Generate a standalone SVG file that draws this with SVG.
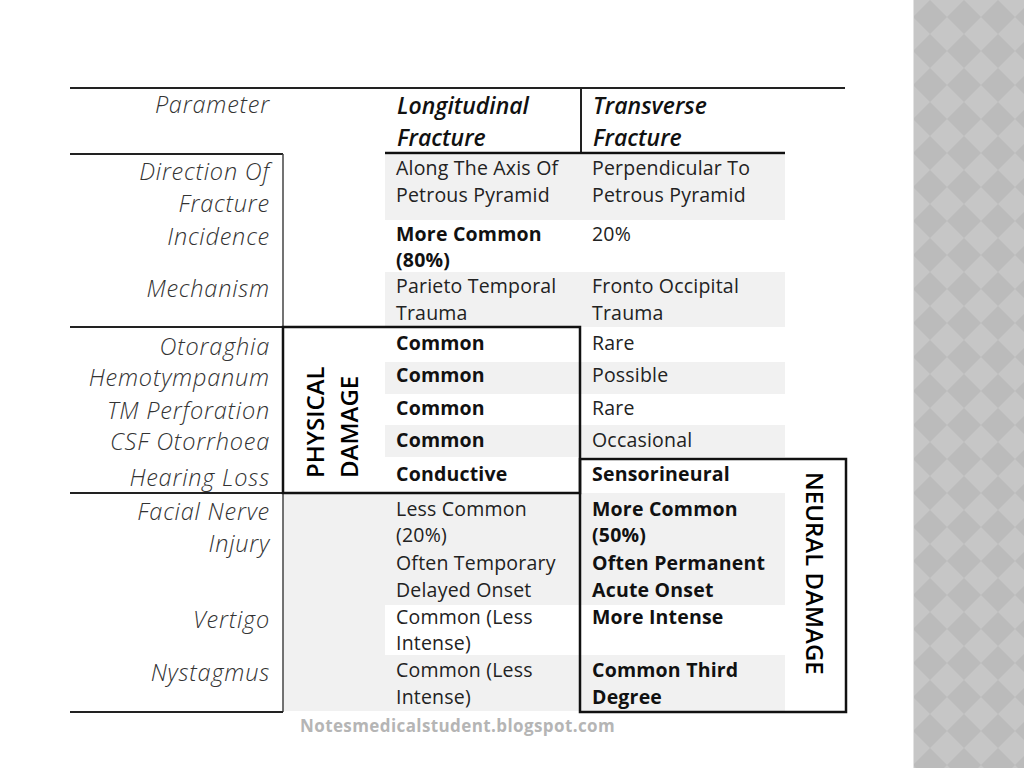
<svg xmlns="http://www.w3.org/2000/svg" width="1024" height="768" viewBox="0 0 1024 768">
<style>
.lbl{font-family:"Open Sans","Liberation Sans",sans-serif;font-style:italic;font-weight:300;font-size:23.5px;letter-spacing:0.8px;fill:#333;text-anchor:end}
.cell{font-family:"Open Sans","Liberation Sans",sans-serif;font-size:19.5px;letter-spacing:0.2px;fill:#222}
.b{font-weight:700;fill:#111}
.hdr{font-family:"Open Sans","Liberation Sans",sans-serif;font-style:italic;font-weight:600;font-size:23px;fill:#111}
.vert{font-family:"Open Sans","Liberation Sans",sans-serif;font-weight:600;font-size:24px;fill:#000}
.fill{fill:#f1f1f1}
.thin{stroke:#222;stroke-width:2;fill:none}
.thick{stroke:#111;stroke-width:2.5;fill:none}
</style>
<defs>
<pattern id="dia" x="913" y="0" width="34" height="34" patternUnits="userSpaceOnUse">
<rect width="34" height="34" fill="#c6c6c6"/>
<polygon points="17,0 34,17 17,34 0,17" fill="#bbbbbb"/>
</pattern>
</defs>
<rect width="1024" height="768" fill="#ffffff"/>
<rect x="913" y="0" width="111" height="768" fill="url(#dia)"/>
<line x1="913.5" y1="0" x2="913.5" y2="768" stroke="#e2e2e2" stroke-width="1"/>

<g id="fills">
<rect class="fill" x="385" y="155" width="400" height="65"/>
<rect class="fill" x="385" y="272" width="400" height="55"/>
<rect class="fill" x="385" y="362" width="400" height="32"/>
<rect class="fill" x="385" y="425" width="400" height="32"/>
<rect class="fill" x="283" y="493" width="502" height="218"/>
<rect x="385" y="605" width="400" height="50" fill="#ffffff"/>
</g>

<g id="connectors">
<line class="thin" x1="70" y1="88" x2="845" y2="88"/>
<line class="thin" x1="581" y1="88" x2="581" y2="153"/>
<line class="thin" x1="70" y1="154" x2="283" y2="154"/>
<line class="thick" x1="385" y1="153" x2="785" y2="153"/>
<line x1="283" y1="154" x2="283" y2="712" stroke="#444" stroke-width="1.5"/>
<line class="thin" x1="70" y1="327" x2="283" y2="327"/>
<line class="thin" x1="70" y1="493" x2="283" y2="493"/>
<line class="thin" x1="70" y1="712" x2="283" y2="712"/>
</g>

<g id="header">
<text class="lbl" x="270" y="113">Parameter</text>
<text class="hdr" x="397" y="114">Longitudinal</text>
<text class="hdr" x="397" y="146">Fracture</text>
<text class="hdr" x="593" y="114">Transverse</text>
<text class="hdr" x="593" y="146">Fracture</text>
</g>

<g id="row-direction">
<text class="lbl" x="270" y="180">Direction Of</text>
<text class="lbl" x="270" y="212">Fracture</text>
<text class="cell" x="396" y="175">Along The Axis Of</text>
<text class="cell" x="396" y="202">Petrous Pyramid</text>
<text class="cell" x="592" y="175">Perpendicular To</text>
<text class="cell" x="592" y="202">Petrous Pyramid</text>
</g>

<g id="row-incidence">
<text class="lbl" x="270" y="245">Incidence</text>
<text class="cell b" x="396" y="241">More Common</text>
<text class="cell b" x="396" y="267">(80%)</text>
<text class="cell" x="592" y="241">20%</text>
</g>

<g id="row-mechanism">
<text class="lbl" x="270" y="297">Mechanism</text>
<text class="cell" x="396" y="293">Parieto Temporal</text>
<text class="cell" x="396" y="320">Trauma</text>
<text class="cell" x="592" y="293">Fronto Occipital</text>
<text class="cell" x="592" y="320">Trauma</text>
</g>

<g id="physical-damage">
<rect class="thick" x="283" y="327" width="297" height="166"/>
<text class="vert" transform="translate(324,478) rotate(-90)">PHYSICAL</text>
<text class="vert" transform="translate(358,478) rotate(-90)">DAMAGE</text>
</g>

<g id="row-otoraghia">
<text class="lbl" x="270" y="355">Otoraghia</text>
<text class="cell b" x="396" y="350">Common</text>
<text class="cell" x="592" y="350">Rare</text>
</g>
<g id="row-hemotympanum">
<text class="lbl" x="270" y="386">Hemotympanum</text>
<text class="cell b" x="396" y="382">Common</text>
<text class="cell" x="592" y="382">Possible</text>
</g>
<g id="row-tm">
<text class="lbl" x="270" y="419">TM Perforation</text>
<text class="cell b" x="396" y="415">Common</text>
<text class="cell" x="592" y="415">Rare</text>
</g>
<g id="row-csf">
<text class="lbl" x="270" y="450">CSF Otorrhoea</text>
<text class="cell b" x="396" y="447">Common</text>
<text class="cell" x="592" y="447">Occasional</text>
</g>
<g id="row-hearing">
<text class="lbl" x="270" y="486">Hearing Loss</text>
<text class="cell b" x="396" y="481">Conductive</text>
<text class="cell b" x="592" y="481">Sensorineural</text>
</g>

<g id="neural-damage">
<rect class="thick" x="580" y="459" width="266" height="253"/>
<text class="vert" transform="translate(806,472) rotate(90)">NEURAL DAMAGE</text>
</g>

<g id="row-facial">
<text class="lbl" x="270" y="520">Facial Nerve</text>
<text class="lbl" x="270" y="552">Injury</text>
<text class="cell" x="396" y="516">Less Common</text>
<text class="cell" x="396" y="542">(20%)</text>
<text class="cell" x="396" y="570">Often Temporary</text>
<text class="cell" x="396" y="597">Delayed Onset</text>
<text class="cell b" x="592" y="516">More Common</text>
<text class="cell b" x="592" y="542">(50%)</text>
<text class="cell b" x="592" y="570">Often Permanent</text>
<text class="cell b" x="592" y="597">Acute Onset</text>
</g>
<g id="row-vertigo">
<text class="lbl" x="270" y="628">Vertigo</text>
<text class="cell" x="396" y="624">Common (Less</text>
<text class="cell" x="396" y="650">Intense)</text>
<text class="cell b" x="592" y="624">More Intense</text>
</g>
<g id="row-nystagmus">
<text class="lbl" x="270" y="681">Nystagmus</text>
<text class="cell" x="396" y="677">Common (Less</text>
<text class="cell" x="396" y="704">Intense)</text>
<text class="cell b" x="592" y="677">Common Third</text>
<text class="cell b" x="592" y="704">Degree</text>
</g>

<text x="300" y="732" font-family="Open Sans, Liberation Sans, sans-serif" font-weight="700" font-size="17" letter-spacing="0.4" fill="#b5b5b5">Notesmedicalstudent.blogspot.com</text>
</svg>
